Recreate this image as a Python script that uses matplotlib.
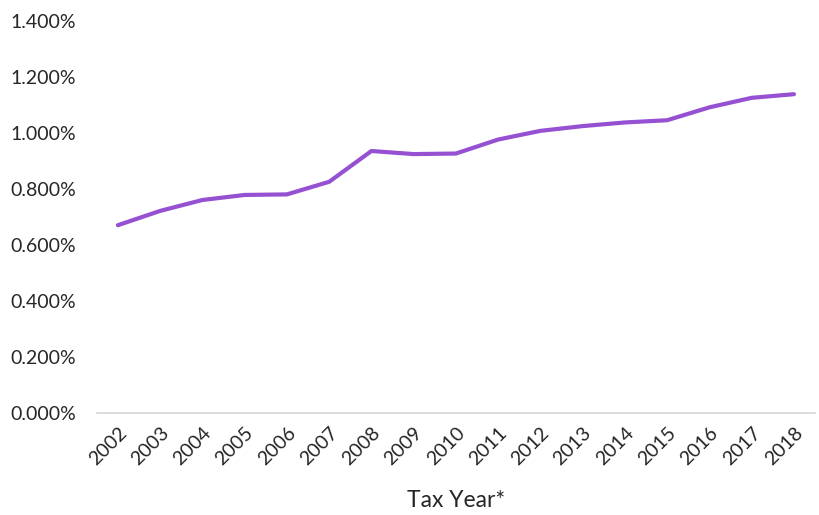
import matplotlib.pyplot as plt
from matplotlib.ticker import FuncFormatter

years = [str(y) for y in range(2002, 2019)]
rate = [0.671, 0.722, 0.761, 0.779, 0.781, 0.826, 0.936, 0.925, 0.927,
        0.977, 1.008, 1.025, 1.038, 1.046, 1.092, 1.126, 1.139]

plt.rcParams['font.family'] = ['Lato', 'DejaVu Sans']
text_color = '#262626'

fig = plt.figure(figsize=(8.2, 5.15), dpi=100)
ax = fig.add_axes([0.118, 0.198, 0.876, 0.761])

x = list(range(len(years)))
ax.plot(x, rate, color='#9651D3', linewidth=3.0, solid_capstyle='round',
        solid_joinstyle='round')

ax.set_xlim(-0.5, len(years) - 0.5)
ax.set_ylim(0, 1.4)
ax.set_yticks([0, 0.2, 0.4, 0.6, 0.8, 1.0, 1.2, 1.4])
ax.yaxis.set_major_formatter(FuncFormatter(lambda v, p: f"{v:.3f}%"))
ax.set_xticks(x)
ax.set_xticklabels(years, rotation=45, ha='right', rotation_mode='anchor')

for s in ['top', 'right', 'left']:
    ax.spines[s].set_visible(False)
ax.spines['bottom'].set_color('#D9D9D9')
ax.spines['bottom'].set_linewidth(1.3)
ax.tick_params(axis='both', length=0, labelsize=14, colors=text_color)
ax.tick_params(axis='y', pad=15)
ax.tick_params(axis='x', pad=8)
ax.set_xlabel('Tax Year*', fontsize=16.5, color=text_color, labelpad=16)

fig.savefig('out.png', dpi=100)
